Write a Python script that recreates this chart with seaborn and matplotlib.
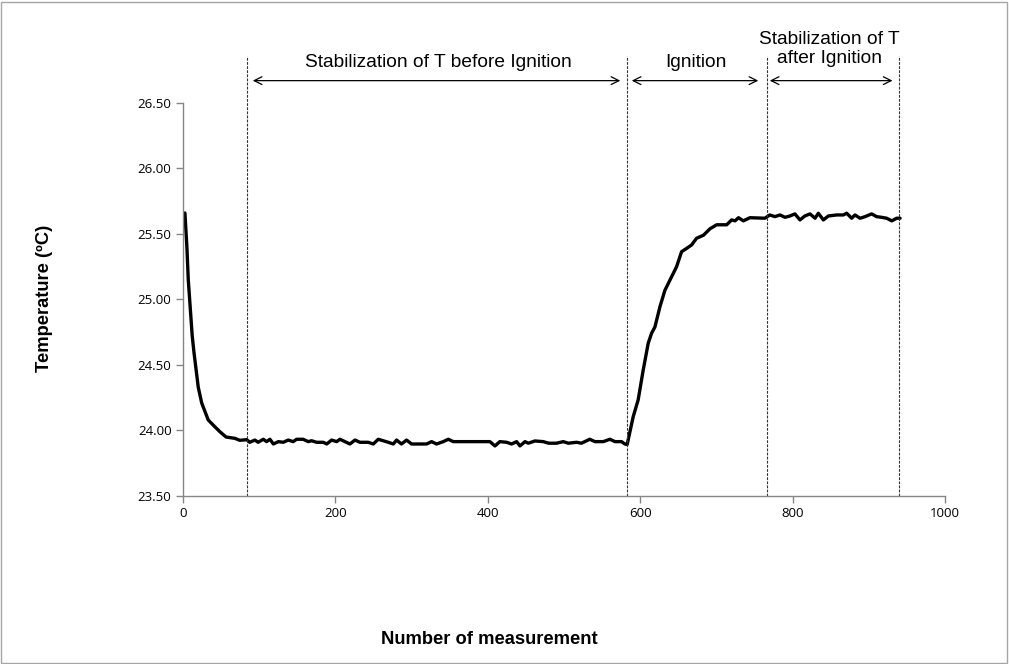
import matplotlib
matplotlib.use("Agg")
import matplotlib.pyplot as plt
import seaborn as sns
import pandas as pd
from matplotlib.patches import Rectangle

# ---- data ----
measurement = [3, 5.6, 7.4, 10.5, 12.6, 15, 20.5, 25, 33.6, 42, 49, 57, 68.6, 75, 84,
               88, 94.8, 99, 105.8, 110, 114.5, 119, 125.5, 132, 138.5, 145, 149.5, 158,
               164.8, 169, 175.7, 184.5, 189, 195.4, 202, 206.3, 213, 219.4, 226, 232.5,
               243.5, 250, 256.6, 263, 269.7, 276.3, 280.6, 287, 293.7, 300.3, 311, 320,
               326.5, 333, 341.8, 348.4, 355, 368, 403, 409.6, 416, 425, 431.4, 438, 442.4,
               449, 453.4, 462, 473, 480, 490.4, 499.2, 505.8, 516.7, 523, 534, 540.7,
               551.6, 560.4, 567, 575.6, 580, 583,
               590.9, 597.4, 604, 610.6, 615, 619.4, 626, 632.5, 641.3, 647.8, 654.4, 661,
               667.5, 674, 683, 691.7, 700.4, 713.5, 720, 724.5, 729, 735.4, 744, 763.7,
               770, 776.8, 783.4, 790, 796.4, 803, 809.6, 816, 822.8, 829.4, 833.7, 840.3,
               846.8, 857.7, 866.5, 870.9, 877.4, 881.8, 888.4, 895, 903.6, 910.2, 916.7,
               923.3, 930, 936.5, 940.9]
temperature = [25.66, 25.40, 25.15, 24.90, 24.72, 24.59, 24.33, 24.21, 24.08, 24.03, 23.99, 23.95, 23.94, 23.925, 23.93,
               23.910, 23.927, 23.910, 23.933, 23.915, 23.933, 23.897, 23.915, 23.910, 23.927, 23.915, 23.933, 23.933,
               23.915, 23.922, 23.910, 23.910, 23.897, 23.927, 23.915, 23.933, 23.915, 23.897, 23.927, 23.910,
               23.910, 23.897, 23.933, 23.922, 23.910, 23.897, 23.927, 23.897, 23.927, 23.897, 23.897, 23.897,
               23.915, 23.897, 23.915, 23.933, 23.915, 23.915, 23.915, 23.882, 23.915, 23.910, 23.897, 23.915, 23.882,
               23.915, 23.903, 23.920, 23.915, 23.903, 23.903, 23.915, 23.903, 23.910, 23.903, 23.933, 23.915,
               23.915, 23.933, 23.915, 23.915, 23.897, 23.893,
               24.105, 24.233, 24.46, 24.666, 24.742, 24.79, 24.945, 25.07, 25.174, 25.25, 25.365, 25.39,
               25.416, 25.467, 25.49, 25.54, 25.57, 25.57, 25.607, 25.600, 25.624, 25.600, 25.624, 25.620,
               25.645, 25.632, 25.645, 25.627, 25.637, 25.653, 25.607, 25.637, 25.653, 25.620, 25.658, 25.607,
               25.637, 25.645, 25.645, 25.658, 25.620, 25.645, 25.620, 25.632, 25.653, 25.632, 25.627,
               25.620, 25.600, 25.620, 25.620]

phase_bounds = [84, 583, 766, 940]
phase_labels = ["Stabilization of T before Ignition", "Ignition", "Stabilization of T\nafter Ignition"]
x_ticks = [0, 200, 400, 600, 800, 1000]
y_ticks = [23.50, 24.00, 24.50, 25.00, 25.50, 26.00, 26.50]

df = pd.DataFrame({"measurement": measurement, "temperature": temperature})

sns.set_theme(style="white")
plt.rcParams['font.family'] = ['Liberation Sans', 'DejaVu Sans']
plt.rcParams['text.color'] = 'black'

fig = plt.figure(figsize=(10.09, 6.64), dpi=100)
ax = fig.add_axes([0.181, 0.253, 0.7557, 0.592])

sns.lineplot(data=df, x="measurement", y="temperature", ax=ax, color="black",
             linewidth=2.4, sort=False, estimator=None)

ax.set_xlim(0, 1000)
ax.set_ylim(23.5, 26.5)
ax.set_xticks(x_ticks)
ax.set_yticks(y_ticks)
ax.set_xticklabels([str(t) for t in x_ticks])
ax.set_yticklabels([f"{t:.2f}" for t in y_ticks])
ax.set_xlabel("")
ax.set_ylabel("")
for s in ["top", "right"]:
    ax.spines[s].set_visible(False)
for s in ["left", "bottom"]:
    ax.spines[s].set_color("#868686")
    ax.spines[s].set_linewidth(1.0)
ax.tick_params(axis="both", direction="out", length=5, width=1, color="#868686",
               labelsize=9.5, labelcolor="black", pad=3, bottom=True, left=True)
for lab in ax.get_xticklabels() + ax.get_yticklabels():
    lab.set_family(['Open Sans', 'DejaVu Sans'])

# phase separators
ax.vlines(phase_bounds, 23.5, 26.86, colors="#333333", linewidth=0.8,
          linestyles=(0, (2.5, 1.2)), clip_on=False)

# arrows and labels
arrow_y = 26.67
arrows = [(92, 574), (589, 755), (770, 931)]
for (a, b) in arrows:
    ax.annotate("", xy=(a, arrow_y), xytext=(b, arrow_y), annotation_clip=False,
                arrowprops=dict(arrowstyle="<->", color="black", lw=0.9,
                                shrinkA=0, shrinkB=0, mutation_scale=14))

ax.text(336, 26.81, phase_labels[0], ha="center", va="center", fontsize=13.8,
        color="black", clip_on=False)
ax.text(673, 26.81, phase_labels[1], ha="center", va="center", fontsize=13.8,
        color="black", clip_on=False)
ax.text(848, 26.915, phase_labels[2], ha="center", va="center", fontsize=13.8,
        color="black", linespacing=1.15, clip_on=False)

fig.text(489 / 1009, 1 - 640 / 664, "Number of measurement", ha="center", va="center",
         fontsize=13.2, fontweight="bold", color="black")
fig.text(45 / 1009, 1 - 298 / 664, "Temperature (ºC)", ha="center", va="center",
         fontsize=13.2, fontweight="bold", rotation=90, color="black")

fig.patches.append(Rectangle((0.001, 0.0015), 0.997, 0.996, transform=fig.transFigure,
                             fill=False, edgecolor="#a6a6a6", linewidth=1.0))

fig.savefig("out.png", dpi=100, facecolor="white")
